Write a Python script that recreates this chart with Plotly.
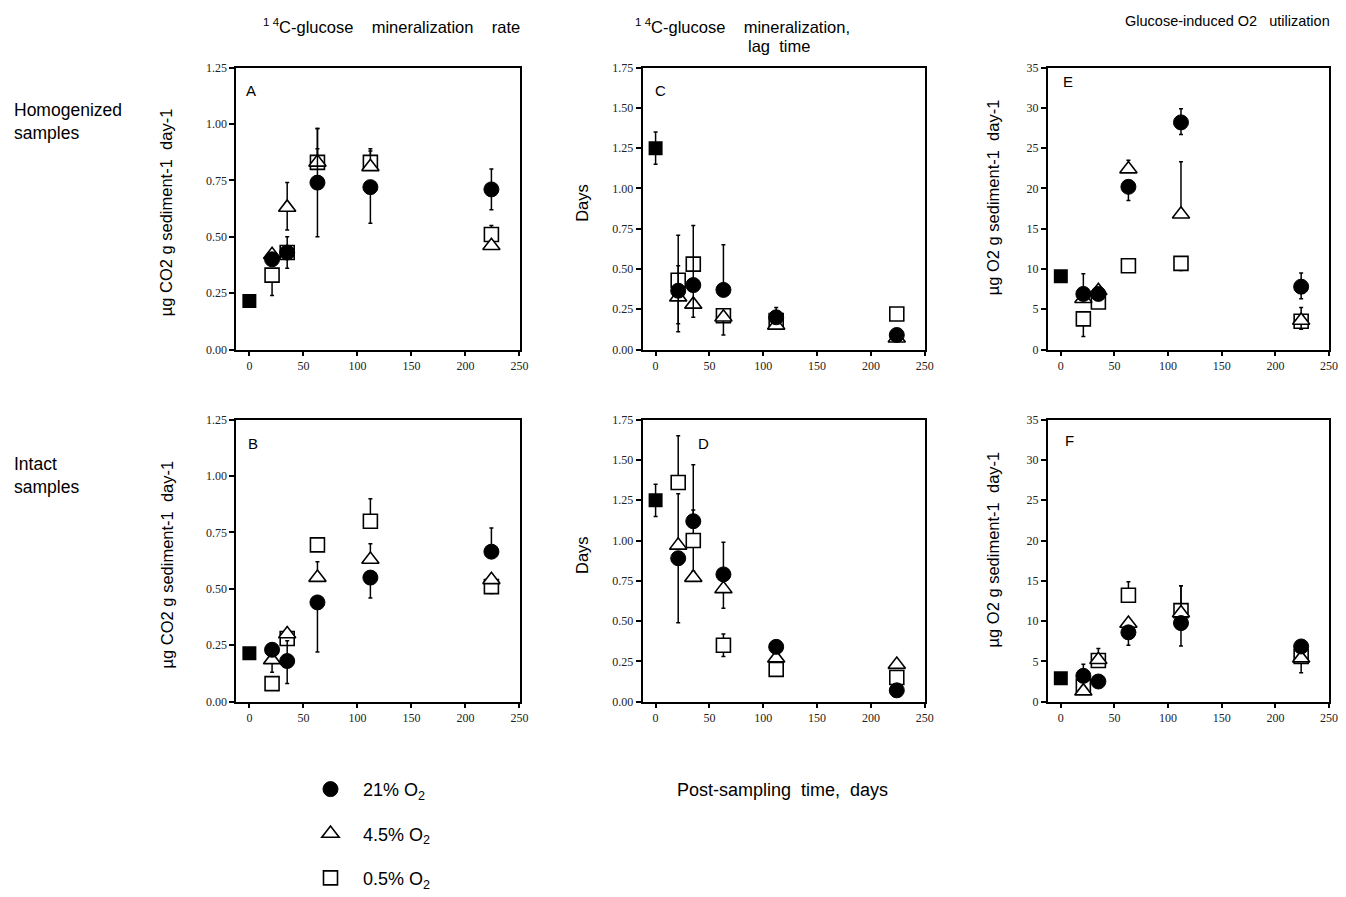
import plotly.graph_objects as go

# ---------------- data ----------------
days = [21, 35, 63, 112, 224]
day0 = [0]

# Panel A: 14C-glucose mineralization rate, homogenized
A_circ = [0.40, 0.43, 0.74, 0.72, 0.71]
A_circ_up = [0, 0.07, 0.24, 0, 0.09]
A_circ_dn = [0, 0.07, 0.24, 0.16, 0.09]
A_tri = [0.42, 0.63, 0.83, 0.81, 0.46]
A_tri_up = [0, 0.11, 0.06, 0.07, 0]
A_tri_dn = [0, 0.10, 0, 0, 0]
A_sq = [0.33, 0.43, 0.83, 0.83, 0.51]
A_sq_up = [0, 0, 0.15, 0.06, 0.04]
A_sq_dn = [0.09, 0, 0, 0, 0]
A_init = [0.215]
A_init_err = [0]

# Panel B: 14C-glucose mineralization rate, intact
B_circ = [0.23, 0.18, 0.44, 0.55, 0.665]
B_circ_up = [0, 0.09, 0, 0, 0.105]
B_circ_dn = [0, 0.10, 0.22, 0.09, 0]
B_tri = [0.185, 0.30, 0.55, 0.63, 0.54]
B_tri_up = [0, 0, 0.07, 0.07, 0]
B_tri_dn = [0.055, 0, 0, 0, 0]
B_sq = [0.08, 0.28, 0.695, 0.80, 0.51]
B_sq_up = [0, 0, 0, 0.10, 0]
B_sq_dn = [0, 0, 0, 0, 0.03]
B_init = [0.215]
B_init_err = [0]

# Panel C: lag time, homogenized
C_circ = [0.365, 0.40, 0.37, 0.20, 0.09]
C_circ_up = [0.345, 0.37, 0.28, 0.06, 0]
C_circ_dn = [0.255, 0.20, 0, 0, 0]
C_tri = [0.325, 0.28, 0.20, 0.15, 0.07]
C_tri_up = [0.195, 0, 0, 0, 0]
C_tri_dn = [0.165, 0, 0.11, 0, 0]
C_sq = [0.43, 0.53, 0.21, 0.18, 0.22]
C_sq_up = [0, 0, 0, 0, 0]
C_sq_dn = [0, 0, 0, 0, 0]
C_init = [1.25]
C_init_err = [0.10]

# Panel D: lag time, intact
D_circ = [0.89, 1.12, 0.79, 0.34, 0.07]
D_circ_up = [0, 0.35, 0.20, 0, 0]
D_circ_dn = [0.40, 0, 0, 0, 0]
D_tri = [0.97, 0.77, 0.70, 0.27, 0.23]
D_tri_up = [0.32, 0, 0, 0, 0]
D_tri_dn = [0, 0, 0.12, 0, 0]
D_sq = [1.36, 1.00, 0.35, 0.20, 0.15]
D_sq_up = [0.29, 0.19, 0.07, 0, 0]
D_sq_dn = [0, 0.19, 0.07, 0, 0]
D_init = [1.25]
D_init_err = [0.10]

# Panel E: glucose-induced O2 utilization, homogenized
E_circ = [6.9, 6.9, 20.2, 28.2, 7.8]
E_circ_up = [2.5, 0, 0, 1.7, 1.7]
E_circ_dn = [0, 0, 1.7, 1.5, 1.5]
E_tri = [6.3, 7.3, 22.4, 16.8, 3.6]
E_tri_up = [0, 0.6, 1.1, 6.5, 1.6]
E_tri_dn = [0, 0, 0, 0, 1.1]
E_sq = [3.8, 5.9, 10.4, 10.7, 3.5]
E_sq_up = [0, 0, 0, 0, 0]
E_sq_dn = [2.2, 0, 0, 0.9, 0]
E_init = [9.1]
E_init_err = [0]

# Panel F: glucose-induced O2 utilization, intact
F_circ = [3.2, 2.5, 8.6, 9.75, 6.85]
F_circ_up = [1.45, 0, 0, 0, 0]
F_circ_dn = [0, 0, 1.6, 2.85, 0]
F_tri = [1.3, 5.2, 9.7, 11.0, 5.4]
F_tri_up = [0, 1.4, 0, 3.4, 0]
F_tri_dn = [0, 0, 0, 0, 0]
F_sq = [1.9, 5.1, 13.2, 11.3, 5.6]
F_sq_up = [0, 0, 1.7, 3.1, 0]
F_sq_dn = [0, 0, 0, 0, 2.0]
F_init = [2.9]
F_init_err = [0]

x_ticks = [0, 50, 100, 150, 200, 250]
rate_ticks = [0.00, 0.25, 0.50, 0.75, 1.00, 1.25]
lag_ticks = [0.00, 0.25, 0.50, 0.75, 1.00, 1.25, 1.50, 1.75]
o2_ticks = [0, 5, 10, 15, 20, 25, 30, 35]

NB = "\u00a0"
series_names = ["21%" + NB + "O<sub>2</sub>", "4.5%" + NB + "O<sub>2</sub>", "0.5%" + NB + "O<sub>2</sub>"]
col_titles = ["<sup>1" + NB + "4</sup>C-glucose" + NB * 4 + "mineralization" + NB * 4 + "rate",
              "<sup>1" + NB + "4</sup>C-glucose" + NB * 4 + "mineralization,",
              "Glucose-induced" + NB + "O2" + NB * 3 + "utilization"]
lag_line = "lag" + NB * 2 + "time"
ylabels = ["µg CO2 g sediment-1" + NB * 2 + "day-1", "Days", "µg O2 g sediment-1" + NB * 2 + "day-1"]
row_labels = ["Homogenized<br>samples", "Intact<br>samples"]
xlabel = "Post-sampling" + NB * 2 + "time," + NB * 2 + "days"
panel_letters = ["A", "C", "E", "B", "D", "F"]

# ---------------- layout geometry ----------------
W, H = 1346, 897
col_px = [(238, 523), (647, 931), (1055, 1338)]
row_px = [(63, 356), (429, 722)]

SANS = "Liberation Sans, Arial, sans-serif"
SERIF = "Liberation Serif, Times New Roman, serif"

fig = go.Figure()

panels = [
    (0, 0, A_circ, A_circ_up, A_circ_dn, A_tri, A_tri_up, A_tri_dn, A_sq, A_sq_up, A_sq_dn, A_init, A_init_err, rate_ticks, [0, 1.25], ".2f"),
    (0, 1, C_circ, C_circ_up, C_circ_dn, C_tri, C_tri_up, C_tri_dn, C_sq, C_sq_up, C_sq_dn, C_init, C_init_err, lag_ticks, [0, 1.75], ".2f"),
    (0, 2, E_circ, E_circ_up, E_circ_dn, E_tri, E_tri_up, E_tri_dn, E_sq, E_sq_up, E_sq_dn, E_init, E_init_err, o2_ticks, [0, 35], "d"),
    (1, 0, B_circ, B_circ_up, B_circ_dn, B_tri, B_tri_up, B_tri_dn, B_sq, B_sq_up, B_sq_dn, B_init, B_init_err, rate_ticks, [0, 1.25], ".2f"),
    (1, 1, D_circ, D_circ_up, D_circ_dn, D_tri, D_tri_up, D_tri_dn, D_sq, D_sq_up, D_sq_dn, D_init, D_init_err, lag_ticks, [0, 1.75], ".2f"),
    (1, 2, F_circ, F_circ_up, F_circ_dn, F_tri, F_tri_up, F_tri_dn, F_sq, F_sq_up, F_sq_dn, F_init, F_init_err, o2_ticks, [0, 35], "d"),
]

letter_pos = [(0.053, 0.92), (0.063, 0.92), (0.07, 0.95), (0.06, 0.915), (0.215, 0.915), (0.075, 0.925)]


def err(up, dn):
    return dict(type="data", symmetric=False, array=up, arrayminus=dn,
                color="black", thickness=1.5, width=2)


for i, p in enumerate(panels):
    (r, c, circ, cu, cd, tri, tu, td, sq, su, sd, init, ie, yt, yr, fmt) = p
    n = i + 1
    xa = "x" if n == 1 else f"x{n}"
    ya = "y" if n == 1 else f"y{n}"
    first = (i == 0)
    fig.add_trace(go.Scatter(x=days, y=sq, mode="markers", xaxis=xa, yaxis=ya,
                             name=series_names[2], legendgroup="c", showlegend=first, legendrank=3,
                             marker=dict(symbol="square", size=14, color="white",
                                         line=dict(color="black", width=1.6)),
                             error_y=err(su, sd)))
    fig.add_trace(go.Scatter(x=days, y=tri, mode="markers", xaxis=xa, yaxis=ya,
                             name=series_names[1], legendgroup="b", showlegend=first, legendrank=2,
                             marker=dict(symbol="triangle-up", size=15, color="white",
                                         line=dict(color="black", width=1.6)),
                             error_y=err(tu, td)))
    fig.add_trace(go.Scatter(x=days, y=circ, mode="markers", xaxis=xa, yaxis=ya,
                             name=series_names[0], legendgroup="a", showlegend=first, legendrank=1,
                             marker=dict(symbol="circle", size=15, color="black",
                                         line=dict(color="black", width=1)),
                             error_y=err(cu, cd)))
    fig.add_trace(go.Scatter(x=day0, y=init, mode="markers", xaxis=xa, yaxis=ya,
                             name="initial", showlegend=False,
                             marker=dict(symbol="square", size=14, color="black"),
                             error_y=err(ie, ie)))

    x0, x1 = col_px[c]
    y0, y1 = row_px[r]
    xdom = [x0 / W, x1 / W]
    ydom = [1 - y1 / H, 1 - y0 / H]
    xkey = "xaxis" if n == 1 else f"xaxis{n}"
    ykey = "yaxis" if n == 1 else f"yaxis{n}"
    fig.layout[xkey] = dict(domain=xdom, anchor=ya, range=[-12, 250], tickvals=x_ticks,
                            showline=True, linecolor="black", linewidth=2, mirror=True,
                            ticks="outside", ticklen=4, tickwidth=1.5, tickcolor="black",
                            showgrid=False, zeroline=False,
                            tickfont=dict(family=SERIF, size=12, color="#222"))
    fig.layout[ykey] = dict(domain=ydom, anchor=xa, range=yr, tickvals=yt, tickformat=fmt,
                            showline=True, linecolor="black", linewidth=2, mirror=True,
                            ticks="outside", ticklen=5, tickwidth=1.5, tickcolor="black",
                            showgrid=False, zeroline=False,
                            tickfont=dict(family=SERIF, size=12, color="#222"))
    lx, ly = letter_pos[i]
    fig.add_annotation(text=panel_letters[i], xref=f"{xa} domain", yref=f"{ya} domain",
                       x=lx, y=ly, showarrow=False, xanchor="center", yanchor="middle",
                       font=dict(family=SANS, size=15, color="black"))

annots = []
ylab_x = [168, 586, 1000]
for r in range(2):
    y0, y1 = row_px[r]
    for c in range(3):
        yc = (y0 + y1) / 2 + (4 if c == 0 else -6 if c == 1 else -12)
        annots.append(dict(text=ylabels[c], x=ylab_x[c] / W, y=1 - yc / H, xref="paper", yref="paper",
                           textangle=-90, showarrow=False, xanchor="center", yanchor="middle",
                           font=dict(family=SANS, size=16.5, color="black")))
annots.append(dict(text=col_titles[0], x=394 / W, y=1 - 20 / H, xref="paper", yref="paper",
                   showarrow=False, xanchor="center", yanchor="middle",
                   font=dict(family=SANS, size=16.5, color="black")))
annots.append(dict(text=col_titles[1], x=748 / W, y=1 - 20 / H, xref="paper", yref="paper",
                   showarrow=False, xanchor="center", yanchor="middle",
                   font=dict(family=SANS, size=16.5, color="black")))
annots.append(dict(text=lag_line, x=784 / W, y=1 - 41 / H, xref="paper", yref="paper",
                   showarrow=False, xanchor="center", yanchor="middle",
                   font=dict(family=SANS, size=16.5, color="black")))
annots.append(dict(text=col_titles[2], x=1236 / W, y=1 - 15 / H, xref="paper", yref="paper",
                   showarrow=False, xanchor="center", yanchor="middle",
                   font=dict(family=SANS, size=14.5, color="black")))
for r, yc in enumerate([119, 487]):
    annots.append(dict(text=row_labels[r], x=12 / W, y=1 - yc / H, xref="paper", yref="paper",
                       showarrow=False, xanchor="left", yanchor="middle", align="left",
                       font=dict(family=SANS, size=17.5, color="black")))
annots.append(dict(text=xlabel, x=788 / W, y=1 - 814 / H, xref="paper", yref="paper",
                   showarrow=False, xanchor="center", yanchor="middle",
                   font=dict(family=SANS, size=18, color="black")))
for a in annots:
    fig.add_annotation(**a)

fig.update_layout(
    width=W, height=H, autosize=False,
    margin=dict(l=0, r=0, t=0, b=0),
    paper_bgcolor="white", plot_bgcolor="white",
    showlegend=True,
    legend=dict(x=300 / W, y=1 - 794 / H, xanchor="left", yanchor="top",
                bgcolor="rgba(0,0,0,0)", tracegroupgap=18, itemwidth=55,
                font=dict(family=SANS, size=18, color="black"),
                traceorder="grouped"),
)

fig.write_html("out.html", config={"displayModeBar": False},
               post_script="document.body.style.margin='0px';document.body.style.overflow='hidden';")
